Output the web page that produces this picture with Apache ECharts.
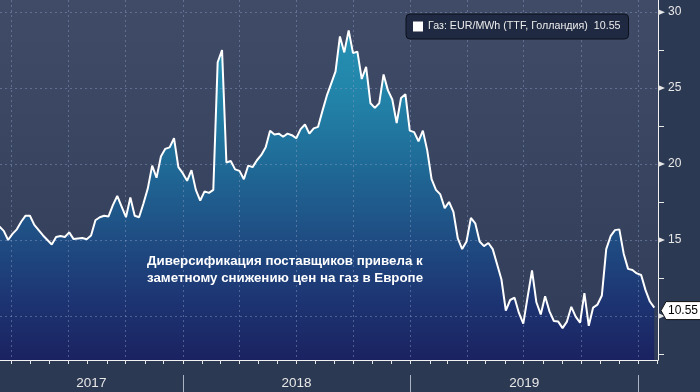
<!DOCTYPE html>
<html>
<head>
<meta charset="utf-8">
<script src="https://cdn.jsdelivr.net/npm/echarts@6/dist/echarts.min.js"></script>
<style>
html,body{margin:0;padding:0;background:#2c3953;overflow:hidden;}
#chart{width:700px;height:392px;}
</style>
</head>
<body>
<div id="chart"></div>
<script>
// ---------------- data ----------------
const seriesName = 'Газ: EUR/MWh (TTF, Голландия)';
const firstWeek = '2017-03-13';          // weekly observations start
const weeklyValues = [
  15.9, 15.6, 15.0, 15.4, 15.7, 16.2, 16.6, 16.6, 16.0, 15.65,
  15.3, 15.0, 14.7, 15.2, 15.26, 15.2, 15.5, 15.06, 15.1, 15.13,
  15.05, 15.3, 16.3, 16.5, 16.6, 16.55, 17.3, 17.9, 17.2, 16.5,
  17.8, 16.6, 16.5, 17.4, 18.4, 19.9, 19.1, 20.5, 21.0, 21.1,
  21.7, 19.8, 19.4, 18.9, 19.6, 18.3, 17.6, 18.2, 18.1, 18.3,
  26.7, 27.5, 20.1, 20.2, 19.65, 19.55, 19.0, 19.9, 19.8, 20.25,
  20.6, 21.1, 22.2, 21.95, 22.0, 21.8, 22.0, 21.9, 21.7, 22.3,
  22.6, 22.0, 22.35, 22.45, 23.5, 24.5, 25.3, 26.1, 28.4, 27.35,
  28.8, 27.3, 27.4, 25.6, 26.4, 24.0, 23.7, 24.0, 25.9, 24.85,
  24.25, 22.7, 24.35, 24.6, 22.2, 22.1, 21.5, 22.2, 20.9, 19.0,
  18.3, 18.0, 17.1, 17.5, 16.85, 15.1, 14.4, 14.9, 16.45, 16.1,
  14.9, 14.6, 14.8, 14.4, 13.4, 12.4, 10.35, 11.05, 11.2, 10.2,
  9.5, 11.25, 13.0, 10.9, 10.1, 11.3, 10.3, 9.67, 9.63, 9.2,
  9.63, 10.6, 9.96, 9.55, 11.5, 9.35, 10.55, 10.75, 11.35, 14.4,
  15.25, 15.65, 15.7, 14.1, 13.1, 13.03, 12.8, 12.7, 11.7, 10.95,
  10.55
];
const axisStart = '2017-03-14';
const axisEnd = '2020-02-02';
const quarterLines = ['2017-04-01','2017-07-01','2017-10-01','2018-01-01','2018-04-01','2018-07-01',
                      '2018-10-01','2019-01-01','2019-04-01','2019-07-01','2019-10-01','2020-01-01'];
const yearStarts = ['2018-01-01','2019-01-01','2020-01-01'];
const yearLabels = ['2017','2018','2019'];
const yMin = 7.1, yMax = 30.8;
const majorTicks = [10, 15, 20, 25, 30];
const minorTicks = [7.5, 12.5, 17.5, 22.5, 27.5];
const annotation = 'Диверсификация поставщиков привела к\nзаметному снижению цен на газ в Европе';

// ---------------- helpers ----------------
const T = s => { const [y, m, d] = s.split('-').map(Number); return new Date(y, m - 1, d).getTime(); };
const [fy, fm, fd] = firstWeek.split('-').map(Number);
const lineData = weeklyValues.map((v, i) => [new Date(fy, fm - 1, fd + 7 * i).getTime(), v]);
const lastPoint = lineData[lineData.length - 1];
const lastValue = weeklyValues[weeklyValues.length - 1];

// month starts inside the axis range
const monthTicks = [];
for (let m = 0; ; m++) {
  const t = new Date(2017, m, 1).getTime();
  if (t > T(axisEnd)) break;
  if (t >= T(axisStart)) monthTicks.push(t);
}
// centre of each visible year segment
const yearCentres = yearLabels.map(y => {
  const a = Math.max(T(y + '-01-01'), T(axisStart));
  const b = Math.min(T((+y + 1) + '-01-01'), T(axisEnd));
  return [(a + b) / 2, yMin, y];
});

const gridColor = 'rgba(140,160,200,0.45)';
const tickColor = '#e6e6e6';
const SANS = '"Liberation Sans",Arial,sans-serif';

const chart = echarts.init(document.getElementById('chart'), null, {renderer: 'canvas'});

const option = {
  animation: false,
  backgroundColor: '#2c3953',
  grid: {
    left: 0, right: 42, top: 0, bottom: 32,
    show: true, borderWidth: 0,
    backgroundColor: {type: 'linear', x: 0, y: 0, x2: 0, y2: 1,
      colorStops: [{offset: 0, color: '#404b67'}, {offset: 1, color: '#313d58'}]}
  },
  legend: {
    data: [{name: seriesName, icon: 'rect'}],
    left: 406, top: 14,
    padding: [7, 8, 7, 7],
    itemWidth: 10, itemHeight: 10, itemGap: 5,
    backgroundColor: '#1f2941',
    borderColor: '#0b111d', borderWidth: 1, borderRadius: 4,
    textStyle: {color: '#ececec', fontSize: 10.7, fontFamily: SANS},
    formatter: n => n + '  ' + lastValue.toFixed(2),
    selectedMode: false
  },
  xAxis: {
    type: 'time', min: T(axisStart), max: T(axisEnd),
    axisLine: {show: true, onZero: false, lineStyle: {color: '#f2f2f2', width: 1}},
    axisTick: {show: false}, axisLabel: {show: false}, splitLine: {show: false}
  },
  yAxis: {
    type: 'value', position: 'right', min: yMin, max: yMax, splitNumber: 5,
    axisLine: {show: true, lineStyle: {color: '#f2f2f2', width: 1}},
    axisTick: {show: false}, splitLine: {show: false},
    axisLabel: {
      margin: 10, color: '#e8e8e8', fontSize: 12, fontFamily: SANS,
      showMinLabel: false, showMaxLabel: false,
      formatter: v => majorTicks.includes(Math.round(v * 100) / 100) ? String(v) : ''
    }
  },
  graphic: [{
    type: 'text', left: 147, top: 253, z: 20,
    style: {text: annotation, fill: '#ffffff', font: 'bold 13.3px ' + SANS, lineHeight: 17}
  }],
  series: [
    { // area fill
      type: 'line', data: lineData, showSymbol: false, silent: true, z: 1,
      lineStyle: {width: 0},
      areaStyle: {
        origin: 'start', opacity: 1,
        color: {type: 'linear', x: 0, y: 0, x2: 0, y2: 360, global: true,
          colorStops: [
            {offset: 0.08, color: '#2592b4'},
            {offset: 0.28, color: '#2282a8'},
            {offset: 0.45, color: '#1f6b97'},
            {offset: 0.67, color: '#1f4c82'},
            {offset: 0.84, color: '#1d3472'},
            {offset: 1, color: '#1b2261'}]}
      }
    },
    { // vertical dashed grid lines (quarters)
      type: 'custom', z: 2, silent: true, clip: false,
      data: quarterLines.map(d => [T(d), yMin]),
      renderItem: (p, api) => {
        const cs = p.coordSys;
        const x = Math.round(api.coord([api.value(0), yMin])[0]) + 0.5;
        return {type: 'line', shape: {x1: x, y1: cs.y, x2: x, y2: cs.y + cs.height},
          style: {stroke: gridColor, lineWidth: 1, lineDash: [2, 3]}};
      }
    },
    { // horizontal dashed grid lines
      type: 'custom', z: 2, silent: true, clip: false,
      data: majorTicks.map(v => [T(axisStart), v]),
      renderItem: (p, api) => {
        const cs = p.coordSys;
        const y = Math.round(api.coord([T(axisStart), api.value(1)])[1]) + 0.5;
        return {type: 'line', shape: {x1: cs.x, y1: y, x2: cs.x + cs.width, y2: y},
          style: {stroke: gridColor, lineWidth: 1, lineDash: [2, 3]}};
      }
    },
    { // the price line
      name: seriesName, type: 'line', data: lineData, showSymbol: false, z: 3,
      lineStyle: {color: '#ffffff', width: 2}, itemStyle: {color: '#ffffff'}
    },
    { // month ticks below the x axis
      type: 'custom', z: 4, silent: true, clip: false,
      data: monthTicks.map(t => [t, yMin]),
      renderItem: (p, api) => {
        const cs = p.coordSys;
        const x = Math.round(api.coord([api.value(0), yMin])[0]) + 0.5;
        const y0 = cs.y + cs.height;
        return {type: 'line', shape: {x1: x, y1: y0, x2: x, y2: y0 + 4},
          style: {stroke: tickColor, lineWidth: 1}};
      }
    },
    { // year separators
      type: 'custom', z: 4, silent: true, clip: false,
      data: yearStarts.map(d => [T(d), yMin]),
      renderItem: (p, api) => {
        const cs = p.coordSys;
        const x = Math.round(api.coord([api.value(0), yMin])[0]) + 0.5;
        const y0 = cs.y + cs.height;
        return {type: 'line', shape: {x1: x, y1: y0 + 15, x2: x, y2: y0 + 40},
          style: {stroke: '#aab3c4', lineWidth: 1}};
      }
    },
    { // year labels
      type: 'custom', z: 4, silent: true, clip: false,
      data: yearCentres,
      renderItem: (p, api) => {
        const cs = p.coordSys;
        const x = api.coord([api.value(0), yMin])[0];
        return {type: 'text', x: x, y: cs.y + cs.height + 23,
          style: {text: yearLabels[p.dataIndex], fill: '#e8e8e8', fontSize: 13.5, fontFamily: SANS,
            align: 'center', verticalAlign: 'middle'}};
      }
    },
    { // major y ticks (triangles)
      type: 'custom', z: 4, silent: true, clip: false,
      data: majorTicks.map(v => [T(axisEnd), v]),
      renderItem: (p, api) => {
        const cs = p.coordSys;
        const x = cs.x + cs.width;
        const y = api.coord([T(axisEnd), api.value(1)])[1];
        return {type: 'polygon', shape: {points: [[x, y - 3], [x + 7, y], [x, y + 3]]},
          style: {fill: tickColor}};
      }
    },
    { // minor y ticks
      type: 'custom', z: 4, silent: true, clip: false,
      data: minorTicks.map(v => [T(axisEnd), v]),
      renderItem: (p, api) => {
        const cs = p.coordSys;
        const x = cs.x + cs.width;
        const y = Math.round(api.coord([T(axisEnd), api.value(1)])[1]) + 0.5;
        return {type: 'line', shape: {x1: x, y1: y, x2: x + 6, y2: y},
          style: {stroke: tickColor, lineWidth: 1}};
      }
    },
    { // last value tag
      type: 'custom', z: 10, silent: true, clip: false,
      data: [lastPoint],
      renderItem: (p, api) => {
        const cs = p.coordSys;
        const x = cs.x + cs.width + 3;
        const y = api.coord([api.value(0), api.value(1)])[1] + 3;
        return {type: 'group', children: [
          {type: 'polygon', shape: {points: [[x, y], [x + 5, y - 9], [x + 45, y - 9], [x + 45, y + 9], [x + 5, y + 9]]},
            style: {fill: '#ffffff', stroke: '#111', lineWidth: 1}},
          {type: 'text', x: x + 7, y: y,
            style: {text: lastValue.toFixed(2), fill: '#000', fontSize: 12, fontFamily: SANS,
              align: 'left', verticalAlign: 'middle'}}
        ]};
      }
    }
  ]
};
chart.setOption(option);
</script>
</body>
</html>
